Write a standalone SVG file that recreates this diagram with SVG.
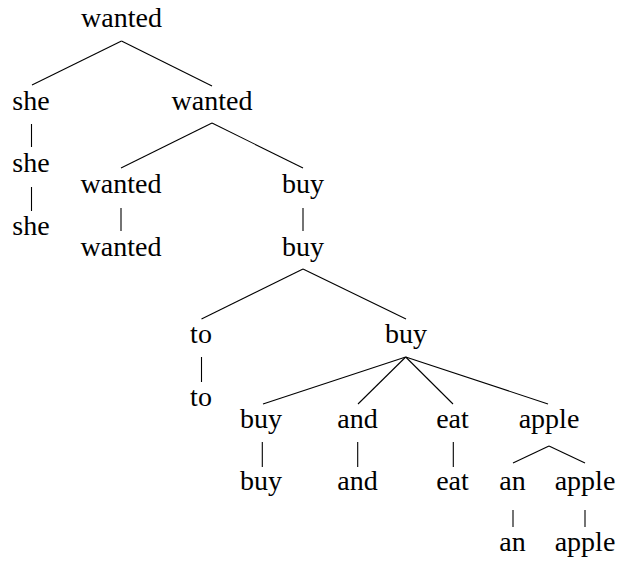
<svg xmlns="http://www.w3.org/2000/svg" width="618" height="563" viewBox="0 0 618 563">
<style>
text{font-family:'Liberation Serif','Times New Roman',Times,'DejaVu Serif',serif;font-size:28px;fill:#000;text-anchor:middle}
line{stroke:#000;stroke-width:1.1}
</style>
<rect width="618" height="563" fill="#fff"/>
<g id="connectors">
<line x1="121.5" y1="41" x2="32" y2="85"/>
<line x1="121.5" y1="41" x2="212" y2="86"/>
<line x1="31.5" y1="124" x2="31.5" y2="147"/>
<line x1="31.5" y1="187" x2="31.5" y2="211"/>
<line x1="212" y1="123" x2="121" y2="168"/>
<line x1="212" y1="123" x2="303" y2="168"/>
<line x1="121" y1="208" x2="121" y2="231"/>
<line x1="303" y1="208" x2="303" y2="231"/>
<line x1="303" y1="269" x2="201.5" y2="319"/>
<line x1="303" y1="269" x2="406" y2="319"/>
<line x1="201.5" y1="357" x2="201.5" y2="382"/>
<line x1="405.7" y1="357" x2="263" y2="404"/>
<line x1="405.7" y1="357" x2="358" y2="404"/>
<line x1="405.7" y1="357" x2="453" y2="404"/>
<line x1="405.7" y1="357" x2="548" y2="404"/>
<line x1="262.3" y1="442" x2="262.3" y2="467"/>
<line x1="357.7" y1="442" x2="357.7" y2="467"/>
<line x1="453.3" y1="442" x2="453.3" y2="467"/>
<line x1="549" y1="446" x2="513" y2="463"/>
<line x1="549" y1="446" x2="585" y2="463"/>
<line x1="513" y1="510" x2="513" y2="527"/>
<line x1="585" y1="510" x2="585" y2="527"/>
</g>
<g id="n-root"><text x="121.5" y="27">wanted</text></g>
<g id="n-she1"><text x="31" y="110">she</text></g>
<g id="n-wanted2"><text x="212" y="110">wanted</text></g>
<g id="n-she2"><text x="31" y="172">she</text></g>
<g id="n-she3"><text x="31" y="235">she</text></g>
<g id="n-wanted3"><text x="121" y="193">wanted</text></g>
<g id="n-buy3"><text x="303" y="193">buy</text></g>
<g id="n-wanted4"><text x="121" y="256">wanted</text></g>
<g id="n-buy4"><text x="303" y="256">buy</text></g>
<g id="n-to1"><text x="201" y="343">to</text></g>
<g id="n-buy5"><text x="406" y="343">buy</text></g>
<g id="n-to2"><text x="201" y="406">to</text></g>
<g id="n-buy6"><text x="261" y="428">buy</text></g>
<g id="n-and1"><text x="357.5" y="428">and</text></g>
<g id="n-eat1"><text x="452.5" y="428">eat</text></g>
<g id="n-apple1"><text x="549" y="428">apple</text></g>
<g id="n-buy7"><text x="261" y="490">buy</text></g>
<g id="n-and2"><text x="357.5" y="490">and</text></g>
<g id="n-eat2"><text x="452.5" y="490">eat</text></g>
<g id="n-an1"><text x="512.5" y="490">an</text></g>
<g id="n-apple2"><text x="585" y="490">apple</text></g>
<g id="n-an2"><text x="512.5" y="551">an</text></g>
<g id="n-apple3"><text x="585" y="551">apple</text></g>
</svg>
